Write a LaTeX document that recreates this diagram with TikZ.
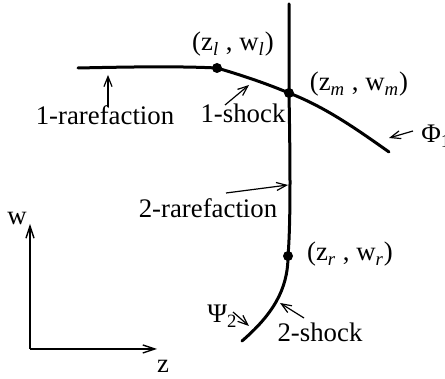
\documentclass[tikz,border=0pt]{standalone}
\usepackage{fontspec}
\setmainfont{Liberation Serif}
\usetikzlibrary{arrows.meta}

\begin{document}
\begin{tikzpicture}[x=0.5pt,y=-0.5pt,font=\fontsize{13.4}{15}\selectfont,
        crv/.style={line width=1.5pt,line cap=round},
        ax/.style={-{Straight Barb[length=6pt,width=4pt]},line width=0.7pt},
        lbl/.style={-{Straight Barb[length=5pt,width=4pt]},line width=0.6pt},
        pt/.style={circle,fill,inner sep=0pt,minimum size=5pt},
        txt/.style={inner sep=0pt}]
        \useasboundingbox (0,0) rectangle (445,379);
        % states
        \node[pt] (l) at (217,68) {};
        \node[pt] (m) at (289,93) {};
        \node[pt] (r) at (288,256) {};
        \coordinate (c1a) at (78,68);
        \coordinate (c1b) at (389,152);
        \coordinate (c2a) at (289,4);
        \coordinate (c2b) at (242,341);
        % wave curves
        \draw[crv] (c1a) .. controls (125,67) and (175,66) .. (l.center)
          .. controls (241,75) and (265,83) .. (m.center)
          .. controls (325,107) and (355,128) .. (c1b);
        \draw[crv] (c2a) -- (m.center) .. controls (290,150) and (291,220) .. (r.center)
          .. controls (288,290) and (272,315) .. (c2b);
        % state labels
        \node[txt,anchor=base] (ll) at (233,51) {(z\textsubscript{\itshape l} , w\textsubscript{\itshape l})};
        \node[txt,anchor=base] (ml) at (359,91) {(z\textsubscript{\itshape m} , w\textsubscript{\itshape m})};
        \node[txt,anchor=base] (rl) at (350,261) {(z\textsubscript{\itshape r} , w\textsubscript{\itshape r})};
        % wave labels
        \node[txt,anchor=base] (rf1) at (105,125) {1-rarefaction};
        \node[txt,anchor=base] (sh1) at (243,123) {1-shock};
        \node[txt,anchor=base] (rf2) at (208,218) {2-rarefaction};
        \node[txt,anchor=base] (sh2) at (320,342) {2-shock};
        \node[txt,anchor=base west] (psi) at (207,323) {Ψ\textsubscript{2}};
        \node[txt,anchor=base west] (phi) at (421,143) {Φ\textsubscript{1}};
        \coordinate (rf1t) at (108,107); \coordinate (rf1h) at (108,75);
        \coordinate (sh1t) at (225,105); \coordinate (sh1h) at (249,85);
        \coordinate (phit) at (413,131); \coordinate (phih) at (389,138);
        \coordinate (rf2t) at (226,193); \coordinate (rf2h) at (288,185);
        \coordinate (psit) at (233,312); \coordinate (psih) at (249,326);
        \coordinate (sh2t) at (304,318); \coordinate (sh2h) at (280,303);
        \draw[lbl] (rf1t) -- (rf1h);
        \draw[lbl] (sh1t) -- (sh1h);
        \draw[lbl] (phit) -- (phih);
        \draw[lbl] (rf2t) -- (rf2h);
        \draw[lbl] (psit) -- (psih);
        \draw[lbl] (sh2t) -- (sh2h);
        % axes
        \coordinate (o) at (30,349);
        \coordinate (wend) at (30,224);
        \coordinate (zend) at (157,349);
        \draw[ax] (o) -- (wend);
        \draw[ax] (o) -- (zend);
        \node[txt,anchor=base] (wlab) at (17,225) {w};
        \node[txt,anchor=base] (zlab) at (163,373) {z};
      \end{tikzpicture}
\end{document}
